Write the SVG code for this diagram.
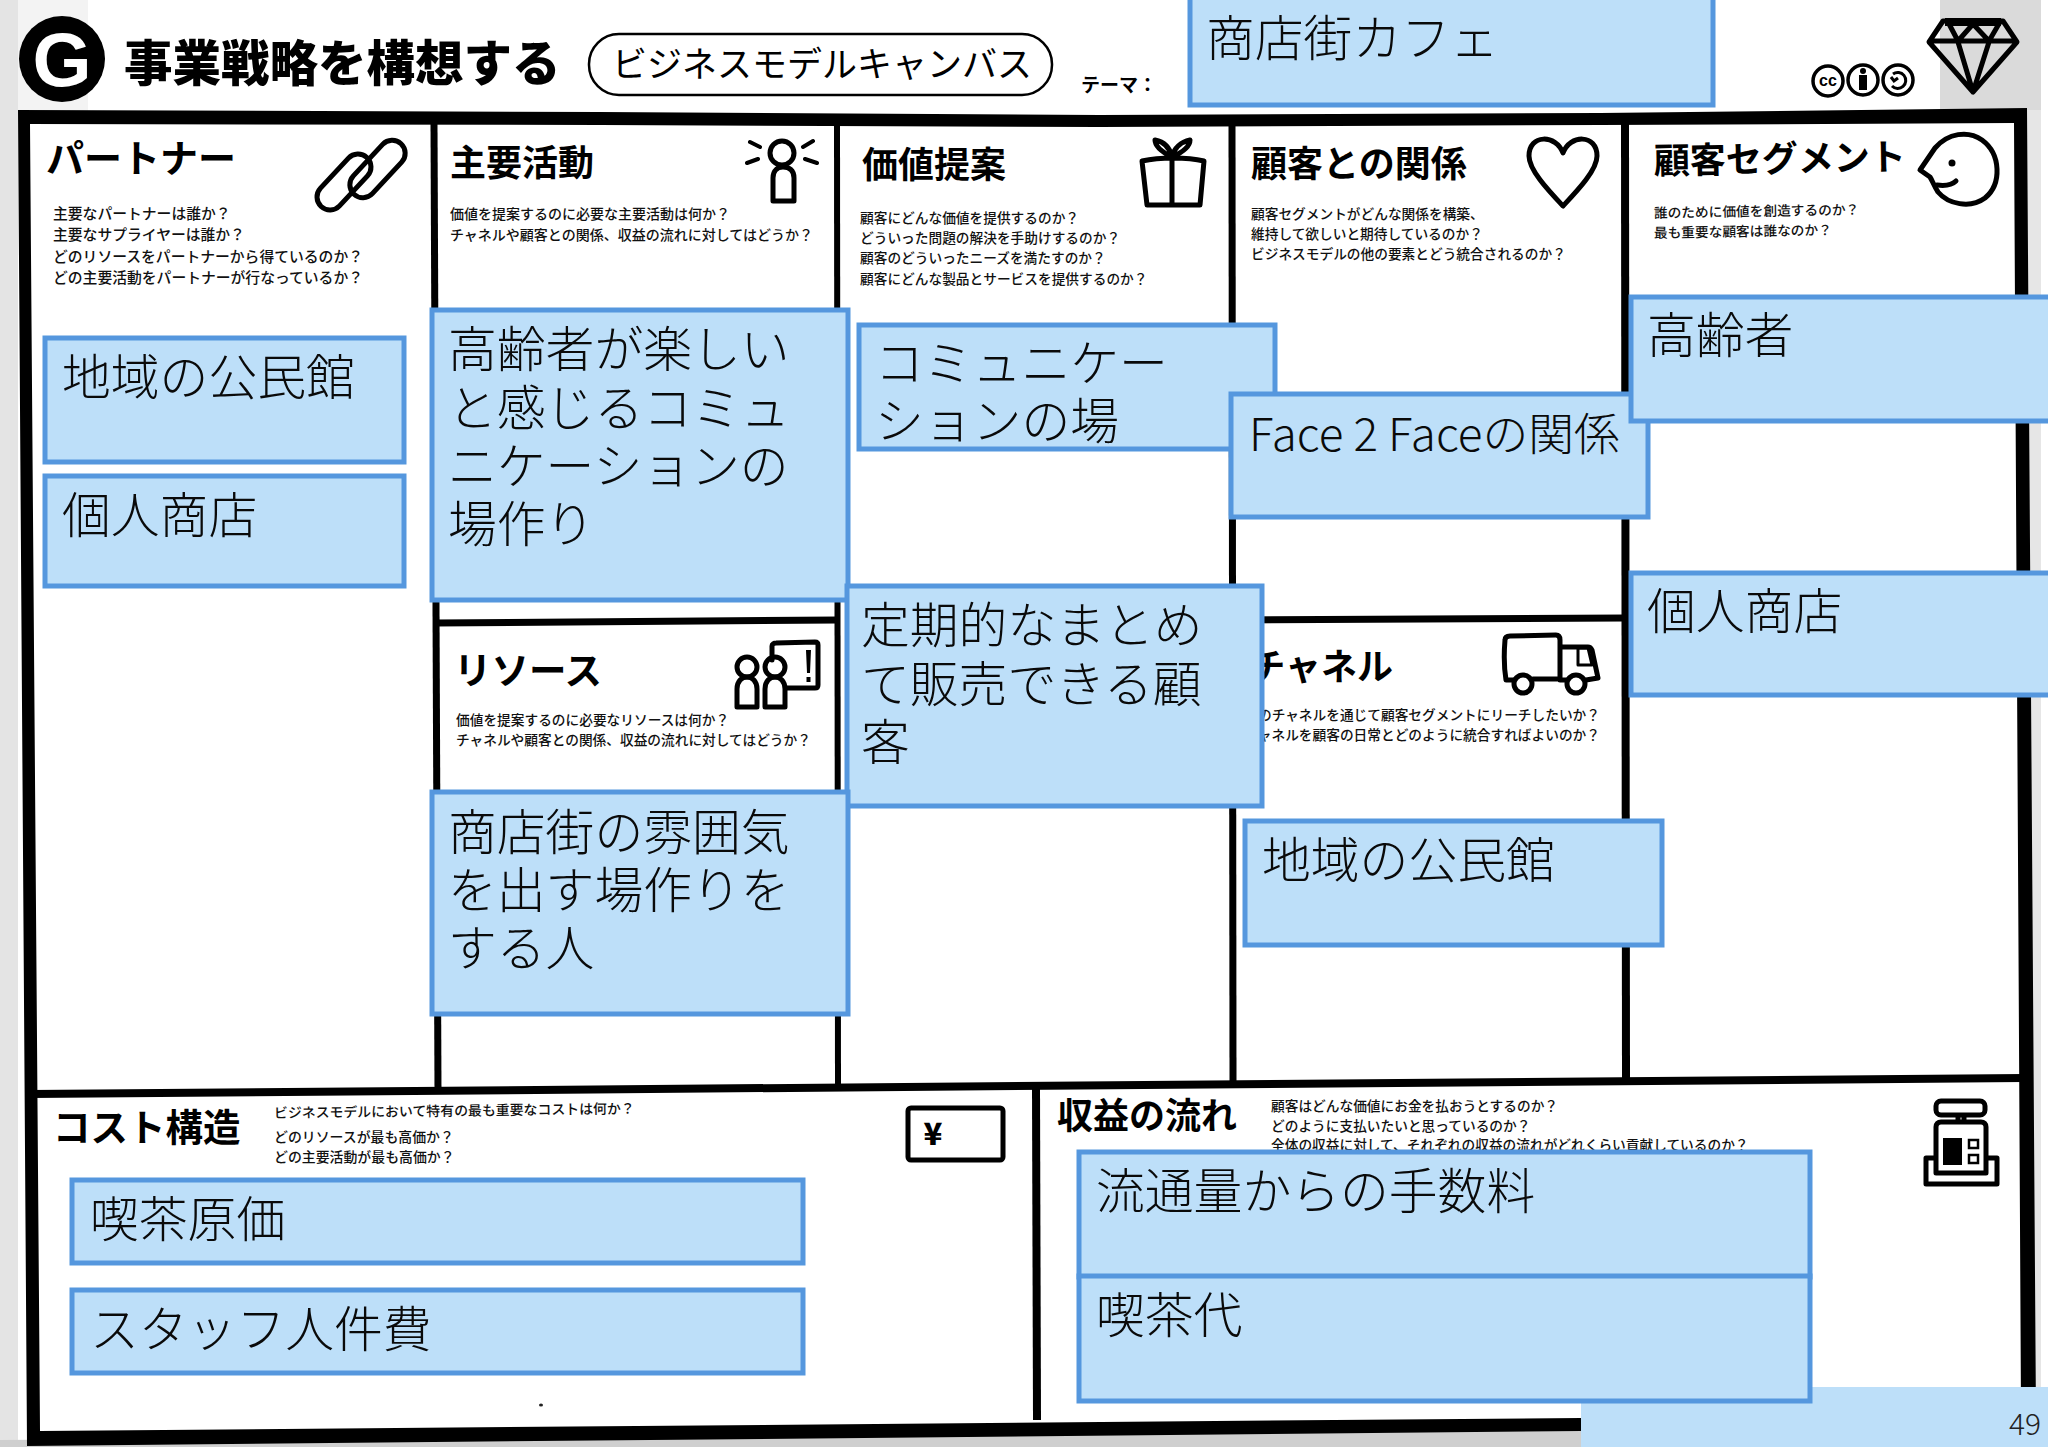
<svg xmlns="http://www.w3.org/2000/svg" width="2048" height="1447" viewBox="0 0 2048 1447">
<defs>
<style>
text{font-family:"Noto Sans CJK JP","Noto Sans",sans-serif;fill:#000}
.box{fill:#bddff9;stroke:#5597de;stroke-width:5}
.bt{font-size:48.8px;font-weight:300;fill:#0a0a0a}
.h{font-size:36px;font-weight:700}
.q{font-size:13.7px;font-weight:500;fill:#111}
.ln{fill:none;stroke:#000;stroke-linecap:butt}
.ic{fill:none;stroke:#000;stroke-width:5;stroke-linejoin:round;stroke-linecap:round}
</style>
</defs>
<g id="paper">
<rect width="2048" height="1447" fill="#fff"/>
<rect x="0" y="0" width="88" height="112" fill="#f3f3f3"/>
<rect x="0" y="0" width="18" height="1447" fill="#e4e4e4"/>
<rect x="1940" y="0" width="101" height="110" fill="#dadada"/>
<polygon points="0,1440 1600,1428 1600,1447 0,1447" fill="#cfcfcf"/>
<rect x="2026" y="110" width="15" height="1300" fill="#e6e6e6"/>
</g>
<g id="grid">
<path fill="#000" fill-rule="evenodd" d="M18 110L600 112 1100 115 1600 113 2027 108 2036 1420 1581 1431 27 1446ZM30 124L600 125 1100 127 1600 125 2014 123 2021 1410 1581 1418 40 1431Z"/>
<line class="ln" stroke-width="8" x1="30" y1="1094" x2="2024" y2="1078"/>
<line class="ln" stroke-width="7" x1="434" y1="124" x2="438" y2="1092"/>
<line class="ln" stroke-width="6" x1="837" y1="124" x2="838" y2="1085"/>
<line class="ln" stroke-width="7" x1="1232" y1="124" x2="1233" y2="1082"/>
<line class="ln" stroke-width="8" x1="1625" y1="124" x2="1626" y2="1080"/>
<line class="ln" stroke-width="8" x1="1036" y1="1088" x2="1037" y2="1420"/>
<line class="ln" stroke-width="7" x1="436" y1="623" x2="838" y2="620"/>
<line class="ln" stroke-width="7" x1="1233" y1="620" x2="1625" y2="618"/>
</g>
<g id="header">
<circle cx="62" cy="59" r="43" fill="#000"/>
<text x="62" y="86" text-anchor="middle" style="font-family:'Liberation Sans',sans-serif;font-size:76px;font-weight:700;fill:#fff">G</text>
<text x="124" y="81" style="font-size:48.5px;font-weight:900">事業戦略を構想する</text>
<rect x="589" y="34" width="463" height="61" rx="30" fill="#fff" stroke="#000" stroke-width="2.5"/>
<text x="612" y="77" style="font-size:35px;font-weight:400">ビジネスモデルキャンバス</text>
<text x="1081" y="92" style="font-size:19px;font-weight:700">テーマ：</text>
</g>
<g id="licence" fill="none" stroke="#000" stroke-width="3.5">
<circle cx="1828" cy="81" r="15"/><circle cx="1863" cy="80" r="15"/><circle cx="1898" cy="80" r="15"/>
<text x="1828" y="86" text-anchor="middle" stroke="none" style="font-family:'Liberation Sans',sans-serif;font-size:16px;font-weight:700;fill:#000">cc</text>
<circle cx="1863" cy="71" r="3" fill="#000" stroke="none"/><rect x="1859" y="75" width="8" height="15" fill="#000" stroke="none"/>
<path d="M1893 74a8 8 0 1 1 -1 12M1891 77l3 4 4-3" stroke-width="3"/>
</g>
<g id="diamond" fill="none" stroke="#000" stroke-width="5" stroke-linejoin="round">
<path d="M1943 21H2003L2017 42 1973 92 1929 42ZM1929 41H2017M1948 22 1958 41 1973 24 1989 41 2000 22M1958 42 1973 92 1989 42"/>
<path d="M1945 22H2001" stroke-width="8"/>
</g>
<g id="partner">
<text class="h" x="46" y="172" style="font-size:38px">パートナー</text>
<text class="q" style="font-size:14.8px" x="53" y="219">主要なパートナーは誰か？</text>
<text class="q" style="font-size:14.8px" x="53" y="240">主要なサプライヤーは誰か？</text>
<text class="q" style="font-size:14.8px" x="53" y="262">どのリソースをパートナーから得ているのか？</text>
<text class="q" style="font-size:14.8px" x="53" y="283">どの主要活動をパートナーが行なっているか？</text>
<g class="ic" stroke-width="4.5"><rect x="310.500" y="169" width="67" height="26" rx="13" transform="rotate(-47 344 182)"/><rect x="343" y="156" width="69" height="26" rx="13" transform="rotate(-47 377.500 169)"/></g>
</g>
<g id="activities">
<text class="h" x="450" y="176">主要活動</text>
<text class="q" x="450" y="219" style="font-size:14px">価値を提案するのに必要な主要活動は何か？</text>
<text class="q" x="450" y="240" style="font-size:14px">チャネルや顧客との関係、収益の流れに対してはどうか？</text>
<g class="ic"><circle cx="782" cy="153" r="12"/><path d="M773 201V178C773 170 778 167 783 167 789 167 794 170 794 178V201Z"/><path d="M750 142l10 5M747 163l11-4M813 141l-10 6M817 163l-12-4" stroke-width="4"/></g>
</g>
<g id="value">
<text class="h" x="862" y="178">価値提案</text>
<text class="q" x="860" y="223">顧客にどんな価値を提供するのか？</text>
<text class="q" x="860" y="243">どういった問題の解決を手助けするのか？</text>
<text class="q" x="860" y="263">顧客のどういったニーズを満たすのか？</text>
<text class="q" x="860" y="284">顧客にどんな製品とサービスを提供するのか？</text>
<g class="ic"><path d="M1142 161C1160 157 1187 157 1204 161L1200 205H1147ZM1172 158V205M1172 157C1162 152 1155 147 1155 140 1165 142 1170 148 1172 157 1174 148 1181 142 1190 140 1190 147 1183 152 1172 157Z"/></g>
</g>
<g id="relationship">
<text class="h" x="1251" y="177">顧客との関係</text>
<text class="q" x="1251" y="219">顧客セグメントがどんな関係を構築、</text>
<text class="q" x="1251" y="239">維持して欲しいと期待しているのか？</text>
<text class="q" x="1251" y="259">ビジネスモデルの他の要素とどう統合されるのか？</text>
<path class="ic" d="M1563 206C1548 190 1529 170 1529 156 1529 134 1556 134 1563 153 1570 134 1597 134 1597 156 1597 170 1578 190 1563 206Z"/>
</g>
<g id="segment">
<text class="h" x="1654" y="174" transform="rotate(-1 1654 174)">顧客セグメント</text>
<text class="q" x="1654" y="218" transform="rotate(-1 1654 218)">誰のために価値を創造するのか？</text>
<text class="q" x="1654" y="238" transform="rotate(-1 1654 238)">最も重要な顧客は誰なのか？</text>
<path class="ic" d="M1935 148C1948 133 1968 130 1982 140 2001 154 2002 184 1985 198 1970 209 1948 204 1938 192 1934 186 1932 180 1930 177L1920 170Z"/>
<circle cx="1952" cy="163" r="3.5"/>
<path class="ic" d="M1937 185C1945 186 1952 185 1956 181" stroke-width="4"/>
</g>
<g id="resources">
<text class="h" x="454" y="684" style="font-size:37.500px">リソース</text>
<text class="q" x="456" y="725">価値を提案するのに必要なリソースは何か？</text>
<text class="q" x="456" y="745">チャネルや顧客との関係、収益の流れに対してはどうか？</text>
<g class="ic"><path d="M772 660V646C772 644 774 643 776 643L815 642C817 642 818 643 818 645V685C818 687 817 688 815 688H786"/><circle cx="747" cy="667" r="10"/><path d="M737 707V689C737 681 742 677 747 677 752 677 757 681 757 689V707Z"/><circle cx="775" cy="667" r="10"/><path d="M765 707V689C765 681 770 677 775 677 780 677 785 681 785 689V707Z"/></g>
<path d="M806 650h5l-1 23h-3ZM806.500 677h4v5h-4Z" fill="#000"/>
</g>
<g id="channel">
<text class="h" x="1393" y="680" text-anchor="end">チャネル</text>
<text class="q" x="1600" y="720" text-anchor="end">どのチャネルを通じて顧客セグメントにリーチしたいか？</text>
<text class="q" x="1600" y="740" text-anchor="end">チャネルを顧客の日常とどのように統合すればよいのか？</text>
<g class="ic"><path d="M1514 680H1506C1504 668 1504 652 1505 640 1505 637 1507 636 1510 636L1556 635C1559 635 1560 637 1560 640V679H1533M1563 647H1588C1590 647 1591 648 1592 650L1598 678 1586 680M1560 680H1566"/><path d="M1578 648H1588L1592 665H1578Z" stroke-width="3"/><circle cx="1523" cy="684" r="9"/><circle cx="1576" cy="684" r="9"/></g>
</g>
<g id="cost">
<text class="h" x="53" y="1141" style="font-size:37.500px">コスト構造</text>
<text class="q" x="274" y="1118" transform="rotate(-0.7 274 1118)" style="font-size:13.9px">ビジネスモデルにおいて特有の最も重要なコストは何か？</text>
<text class="q" x="274" y="1142" style="font-size:13.9px">どのリソースが最も高価か？</text>
<text class="q" x="274" y="1162" style="font-size:13.9px">どの主要活動が最も高価か？</text>
<rect x="908" y="1108" width="95" height="52" rx="3" fill="none" stroke="#000" stroke-width="5"/>
<text x="933" y="1145" text-anchor="middle" style="font-size:31px;font-weight:900">¥</text>
</g>
<g id="revenue">
<text class="h" x="1057" y="1129">収益の流れ</text>
<text class="q" x="1271" y="1111">顧客はどんな価値にお金を払おうとするのか？</text>
<text class="q" x="1271" y="1131">どのように支払いたいと思っているのか？</text>
<text class="q" x="1271" y="1150">全体の収益に対して、それぞれの収益の流れがどれくらい貢献しているのか？</text>
<g class="ic"><rect x="1936" y="1101" width="49" height="14" rx="5"/><path d="M1958 1116V1122M1964 1116V1122M1941 1122H1981C1984 1122 1986 1124 1986 1127V1173H1936V1127C1936 1124 1938 1122 1941 1122ZM1936 1158H1926V1184H1997V1158H1986"/></g>
<rect x="1943" y="1138" width="19" height="27" fill="#000"/>
<rect x="1969" y="1140" width="9" height="8" fill="none" stroke="#000" stroke-width="2.500"/><rect x="1969" y="1155" width="9" height="8" fill="none" stroke="#000" stroke-width="2.500"/>
</g>
<ellipse id="speck" cx="541" cy="1405" rx="2" ry="1.500" fill="#222"/>
<g id="page"><rect x="1581" y="1387" width="467" height="60" fill="#bddff9"/><text x="2041" y="1435" text-anchor="end" style="font-size:30px;font-weight:300;fill:#222">49</text></g>
<g id="n-theme"><rect class="box" x="1190" y="-4" width="523" height="109"/><text class="bt" x="1206" y="56">商店街カフェ</text></g>
<g id="n-kp1"><rect class="box" x="45" y="338" width="359" height="124"/><text class="bt" x="62" y="395">地域の公民館</text></g>
<g id="n-kp2"><rect class="box" x="45" y="476" width="359" height="110"/><text class="bt" x="62" y="533">個人商店</text></g>
<g id="n-ka"><rect class="box" x="432" y="310" width="416" height="290"/><text class="bt" x="448" y="367">高齢者が楽しい</text><text class="bt" x="448" y="426">と感じるコミュ</text><text class="bt" x="448" y="484">ニケーションの</text><text class="bt" x="448" y="542">場作り</text></g>
<g id="n-vp1"><rect class="box" x="859" y="325" width="416" height="124"/><text class="bt" x="875" y="381">コミュニケー</text><text class="bt" x="875" y="439">ションの場</text></g>
<g id="n-cr"><rect class="box" x="1231" y="394" width="417" height="123"/><text class="bt" style="font-size:45.800px" x="1249" y="451">Face 2 Faceの関係</text></g>
<g id="n-cs1"><rect class="box" x="1631" y="297" width="420" height="124"/><text class="bt" x="1647" y="353">高齢者</text></g>
<g id="n-cs2"><rect class="box" x="1631" y="573" width="420" height="122"/><text class="bt" x="1647" y="629">個人商店</text></g>
<g id="n-vp2"><rect class="box" x="847" y="586" width="415" height="220"/><text class="bt" x="861" y="643">定期的なまとめ</text><text class="bt" x="861" y="702">て販売できる顧</text><text class="bt" x="861" y="760">客</text></g>
<g id="n-kr"><rect class="box" x="432" y="792" width="416" height="222"/><text class="bt" x="448" y="850">商店街の雰囲気</text><text class="bt" x="448" y="908">を出す場作りを</text><text class="bt" x="448" y="966">する人</text></g>
<g id="n-ch"><rect class="box" x="1245" y="821" width="417" height="124"/><text class="bt" x="1262" y="878">地域の公民館</text></g>
<g id="n-c1"><rect class="box" x="72" y="1180" width="731" height="83"/><text class="bt" x="90" y="1237">喫茶原価</text></g>
<g id="n-c2"><rect class="box" x="72" y="1290" width="731" height="83"/><text class="bt" x="90" y="1347">スタッフ人件費</text></g>
<g id="n-r1"><rect class="box" x="1079" y="1152" width="731" height="125"/><text class="bt" x="1096" y="1209">流通量からの手数料</text></g>
<g id="n-r2"><rect class="box" x="1079" y="1276" width="731" height="125"/><text class="bt" x="1096" y="1333">喫茶代</text></g>
</svg>
